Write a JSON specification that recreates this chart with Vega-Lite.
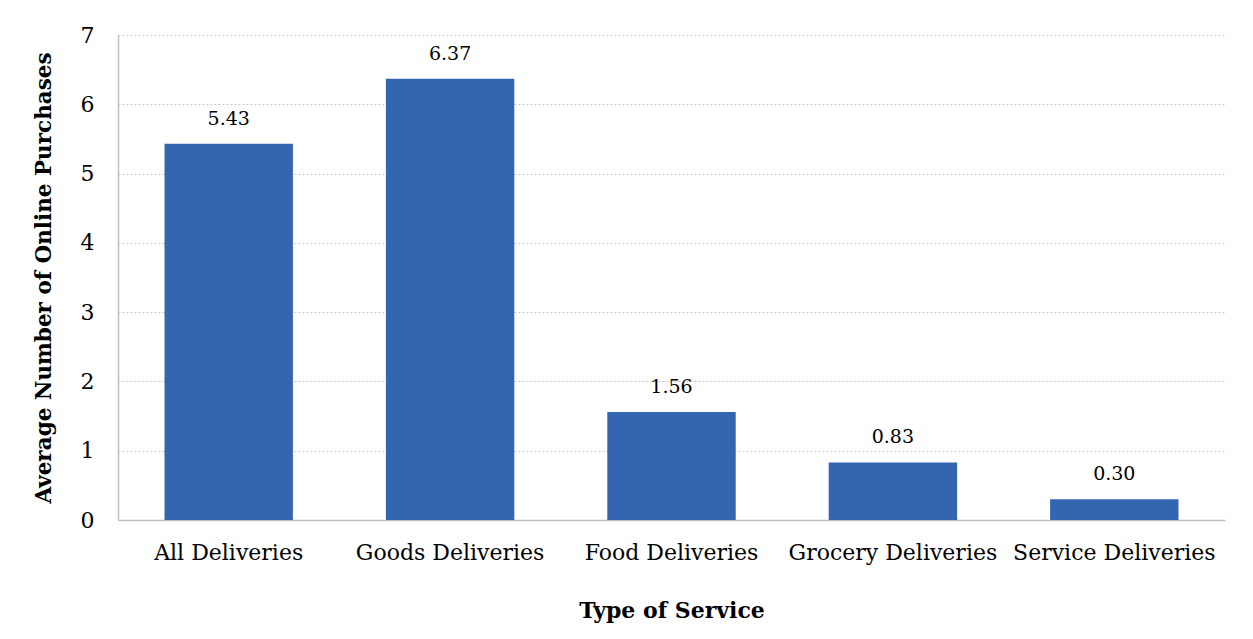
{
  "$schema": "https://vega.github.io/schema/vega-lite/v6.json",
  "autosize": "none",
  "width": 1107,
  "height": 485,
  "padding": {"left": 118, "top": 35, "right": 28, "bottom": 119},
  "background": "white",
  "config": {
    "font": "DejaVu Serif",
    "view": {"stroke": null}
  },
  "data": {
    "values": [
      {"service": "All Deliveries", "value": 5.43},
      {"service": "Goods Deliveries", "value": 6.37},
      {"service": "Food Deliveries", "value": 1.56},
      {"service": "Grocery Deliveries", "value": 0.83},
      {"service": "Service Deliveries", "value": 0.30}
    ]
  },
  "encoding": {
    "x": {
      "field": "service",
      "type": "nominal",
      "sort": null,
      "scale": {"paddingInner": 0.42, "paddingOuter": 0.21},
      "axis": {
        "title": "Type of Service",
        "titleFont": "DejaVu Serif",
        "titleFontSize": 22,
        "titleFontWeight": "bold",
        "titleColor": "black",
        "titlePadding": 37,
        "labelFont": "DejaVu Serif",
        "labelFontSize": 22,
        "labelFontWeight": "normal",
        "labelColor": "black",
        "labelAngle": 0,
        "labelPadding": 22,
        "labelLimit": 0,
        "labelOverlap": false,
        "ticks": false,
        "domainColor": "#bfbfbf",
        "domainWidth": 1.5
      }
    },
    "y": {
      "field": "value",
      "type": "quantitative",
      "scale": {"domain": [0, 7], "nice": false},
      "axis": {
        "title": "Average Number of Online Purchases",
        "titleFont": "DejaVu Serif",
        "titleFontSize": 21.5,
        "titleFontWeight": "bold",
        "titleColor": "black",
        "titlePadding": 25,
        "labelFont": "DejaVu Serif",
        "labelFontSize": 22,
        "labelColor": "black",
        "labelPadding": 24,
        "labelOverlap": false,
        "labelFlush": false,
        "values": [0, 1, 2, 3, 4, 5, 6, 7],
        "ticks": false,
        "domainColor": "#bfbfbf",
        "domainWidth": 1.5,
        "grid": true,
        "gridColor": "#c8c8c8",
        "gridDash": [2, 2],
        "gridWidth": 1
      }
    }
  },
  "layer": [
    {
      "mark": {"type": "bar", "color": "#3465b0"}
    },
    {
      "mark": {"type": "text", "dy": -25, "fontSize": 19, "font": "DejaVu Serif", "color": "black"},
      "encoding": {
        "text": {"field": "value", "type": "quantitative", "format": ".2f"}
      }
    }
  ]
}
